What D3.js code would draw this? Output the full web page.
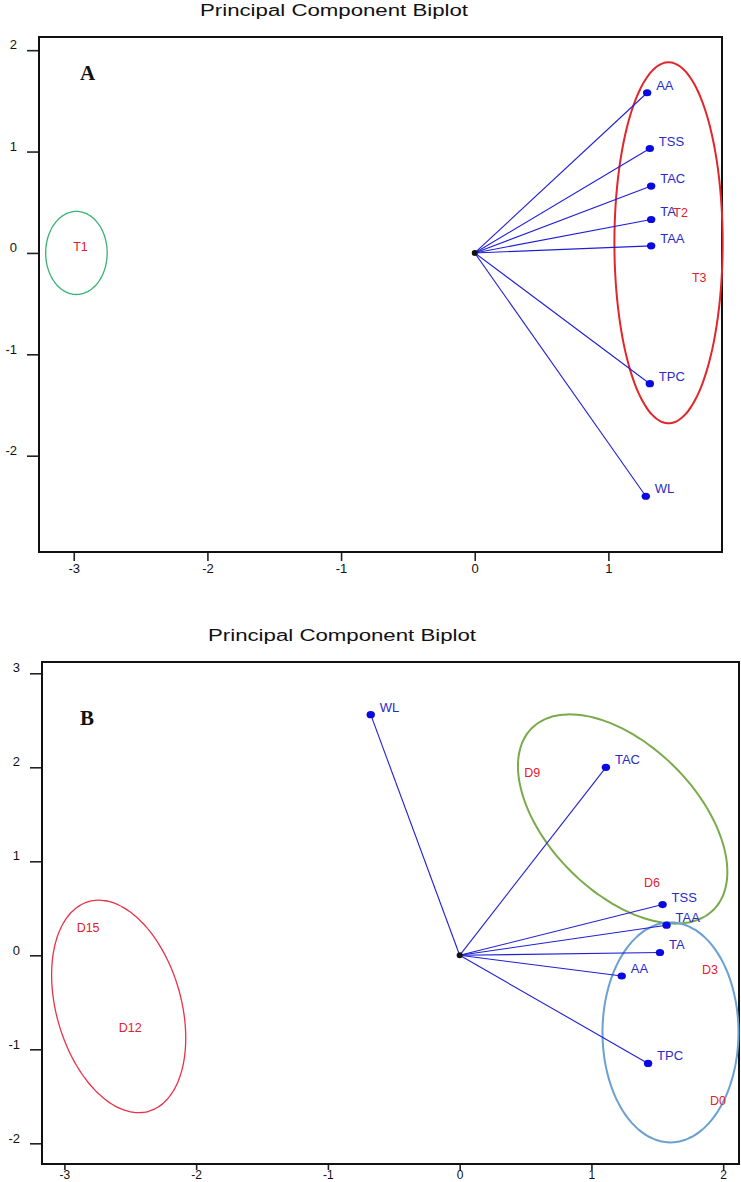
<!DOCTYPE html>
<html><head><meta charset="utf-8">
<script src="https://cdn.jsdelivr.net/npm/d3@7"></script>
<style>body{margin:0;background:#fff}svg{display:block}</style>
</head><body>
<svg id="c" width="741" height="1182"></svg>
<script>
// ---------- Panel A data ----------
const titleText = "Principal Component Biplot";
const xTicksA = [-3, -2, -1, 0, 1];
const yTicksA = [-2, -1, 0, 1, 2];
const varsA = ["AA", "TSS", "TAC", "TA", "TAA", "TPC", "WL"];
const loadXA = [1.29, 1.31, 1.32, 1.32, 1.32, 1.31, 1.28];
const loadYA = [1.58, 1.03, 0.66, 0.33, 0.07, -1.29, -2.40];
const scoresA = ["T1", "T2", "T3"];
const scoreXA = [-2.95, 1.54, 1.68];
const scoreYA = [0.06, 0.40, -0.24];
// ellipses: center + two conjugate half-axis vectors (data units)
const ellA = [
  {cx: -2.98, cy: 0.0, ux: 0.23, uy: 0, vx: 0, vy: 0.41, color: "#3bb273", w: 1.3},
  {cx: 1.45, cy: 0.10, ux: 0.405, uy: 0, vx: 0, vy: 1.78, color: "#e3262b", w: 2}
];

// ---------- Panel B data ----------
const xTicksB = [-3, -2, -1, 0, 1, 2];
const yTicksB = [-2, -1, 0, 1, 2, 3];
const varsB = ["WL", "TAC", "TSS", "TAA", "TA", "AA", "TPC"];
const loadXB = [-0.675, 1.11, 1.54, 1.57, 1.52, 1.23, 1.43];
const loadYB = [2.56, 2.00, 0.54, 0.32, 0.03, -0.22, -1.15];
const scoresB = ["D9", "D6", "D3", "D0", "D15", "D12"];
const scoreXB = [0.55, 1.46, 1.90, 1.96, -2.82, -2.50];
const scoreYB = [1.94, 0.77, -0.15, -1.55, 0.29, -0.77];
const ellB = [
  {cx: 1.237, cy: 1.45, ux: 0.70, uy: -0.95, vx: 0.376, vy: 0.58, color: "#7aab4a", w: 2},
  {cx: 1.60, cy: -0.82, ux: 0.516, uy: 0, vx: 0, vy: 1.17, color: "#6aa0d2", w: 2},
  {cx: -2.588, cy: -0.544, ux: 0.228, uy: -1.115, vx: -0.455, vy: -0.183, color: "#e8324a", w: 1.3}
];

const svg = d3.select("#c");
const BLUE = "#1f1fd6", TXTBLUE = "#2a2ac8", RED = "#e3202c";

function panel(cfg) {
  const x = d3.scaleLinear().domain(cfg.xd).range(cfg.xr);
  const y = d3.scaleLinear().domain(cfg.yd).range(cfg.yr);
  const g = svg.append("g");

  // title
  g.append("text").attr("x", cfg.titleX).attr("y", cfg.titleY)
    .attr("text-anchor", "middle").attr("font-family", "Liberation Sans, Arial, sans-serif")
    .attr("font-size", 16).attr("textLength", 268).attr("lengthAdjust", "spacingAndGlyphs")
    .attr("fill", "#111").text(titleText);

  // axes
  const fmt = d => String(d);
  const xa = g.append("g").attr("transform", `translate(0,${cfg.yr[0]})`)
    .call(d3.axisBottom(x).tickValues(cfg.xt).tickSize(cfg.xts).tickPadding(cfg.xtp).tickFormat(fmt));
  const ya = g.append("g").attr("transform", `translate(${cfg.xr[0]},0)`)
    .call(d3.axisLeft(y).tickValues(cfg.yt).tickSize(12).tickPadding(10).tickFormat(fmt));
  [xa, ya].forEach(a => {
    a.select(".domain").remove();
    a.selectAll("line").attr("stroke", "#222").attr("stroke-width", 1.6);
    a.selectAll("text").attr("font-family", "Liberation Sans, Arial, sans-serif")
      .attr("font-size", 13).attr("fill", "#111");
  });
  xa.selectAll("text").attr("font-size", cfg.xfs);
  ya.selectAll("text").attr("dy", "-0.1em");

  // frame
  g.append("rect").attr("x", cfg.xr[0]).attr("y", cfg.yr[1])
    .attr("width", cfg.xr[1] - cfg.xr[0]).attr("height", cfg.yr[0] - cfg.yr[1])
    .attr("fill", "none").attr("stroke", "#111").attr("stroke-width", 2);

  // panel letter
  g.append("text").attr("x", cfg.letterX).attr("y", cfg.letterY)
    .attr("font-family", "Liberation Serif, Times New Roman, serif").attr("font-weight", "bold")
    .attr("font-size", 21).attr("fill", "#111").text(cfg.letter);

  // ellipses
  const t = d3.range(0, 361, 3).map(d => d * Math.PI / 180);
  const line = d3.line().x(d => d[0]).y(d => d[1]).curve(d3.curveCardinalClosed);
  g.selectAll(".ell").data(cfg.ells).join("path")
    .attr("d", e => line(t.slice(0, -1).map(a => [
      x(e.cx + e.ux * Math.cos(a) + e.vx * Math.sin(a)),
      y(e.cy + e.uy * Math.cos(a) + e.vy * Math.sin(a))
    ])))
    .attr("fill", "none").attr("stroke", e => e.color).attr("stroke-width", e => e.w);

  // loading vectors
  const L = cfg.vars.map((v, i) => ({name: v, x: cfg.lx[i], y: cfg.ly[i]}));
  g.selectAll(".ln").data(L).join("line")
    .attr("x1", x(0)).attr("y1", y(0)).attr("x2", d => x(d.x)).attr("y2", d => y(d.y))
    .attr("stroke", BLUE).attr("stroke-width", 1.1);
  g.selectAll(".dot").data(L).join("ellipse")
    .attr("cx", d => x(d.x)).attr("cy", d => y(d.y)).attr("rx", 4.2).attr("ry", 3.6)
    .attr("fill", "#0a0ae0");
  g.selectAll(".lbl").data(L).join("text")
    .attr("x", d => x(d.x) + 9).attr("y", d => y(d.y) - 3)
    .attr("font-family", "Liberation Sans, Arial, sans-serif").attr("font-size", 13)
    .attr("fill", TXTBLUE).text(d => d.name);
  g.append("circle").attr("cx", x(0)).attr("cy", y(0)).attr("r", 3).attr("fill", "#111");

  // score labels
  const S = cfg.scores.map((s, i) => ({name: s, x: cfg.sx[i], y: cfg.sy[i]}));
  g.selectAll(".sc").data(S).join("text")
    .attr("x", d => x(d.x)).attr("y", d => y(d.y)).attr("dy", "0.35em")
    .attr("text-anchor", "middle")
    .attr("font-family", "Liberation Sans, Arial, sans-serif").attr("font-size", 12.5)
    .attr("fill", RED).text(d => d.name);
}

panel({
  xd: [-3.26, 1.85], xr: [39, 722], yd: [-2.95, 2.13], yr: [552, 37],
  xt: xTicksA, yt: yTicksA, xts: 9, xtp: 3, xfs: 13, titleX: 334, titleY: 16,
  letter: "A", letterX: 80, letterY: 80,
  vars: varsA, lx: loadXA, ly: loadYA, scores: scoresA, sx: scoreXA, sy: scoreYA, ells: ellA
});
panel({
  xd: [-3.17, 2.12], xr: [42, 739], yd: [-2.22, 3.12], yr: [1164, 662],
  xt: xTicksB, yt: yTicksB, xts: 6, xtp: 0, xfs: 12, titleX: 342, titleY: 641,
  letter: "B", letterX: 80, letterY: 725,
  vars: varsB, lx: loadXB, ly: loadYB, scores: scoresB, sx: scoreXB, sy: scoreYB, ells: ellB
});
</script>
</body></html>
